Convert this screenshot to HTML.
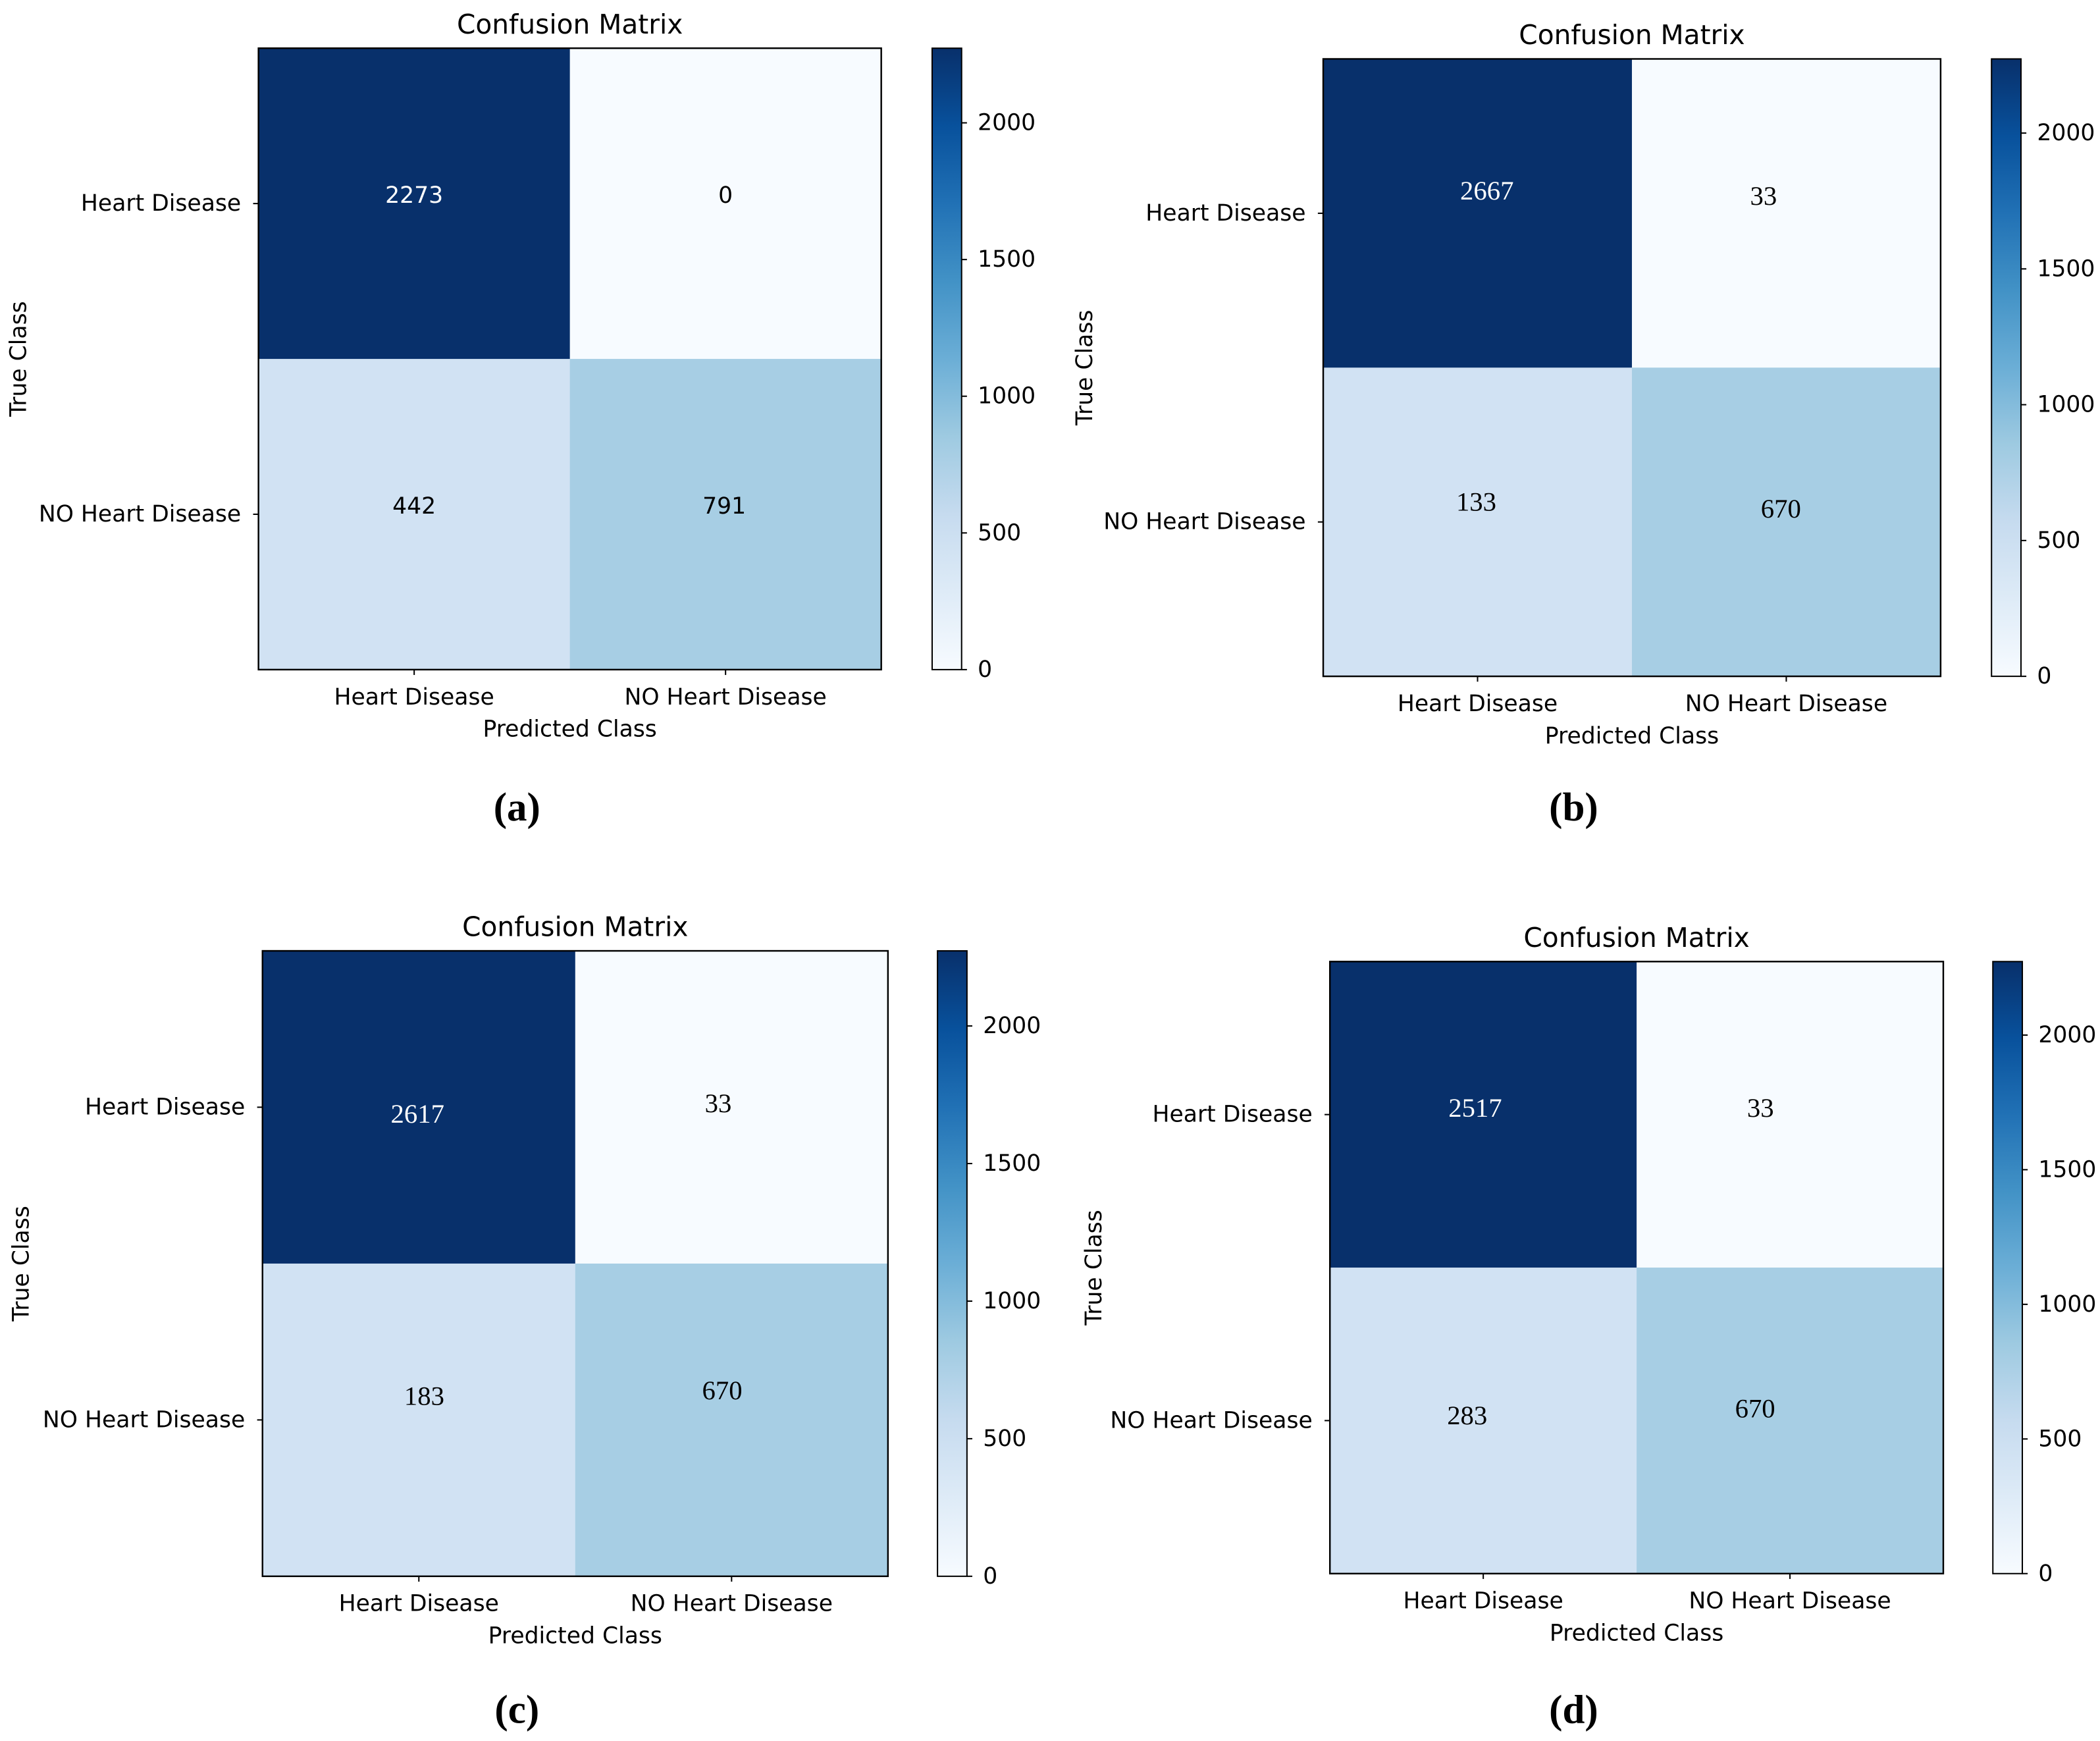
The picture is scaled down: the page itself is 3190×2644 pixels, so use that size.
<!DOCTYPE html>
<html><head><meta charset="utf-8"><style>
html,body{margin:0;padding:0;background:#fff;}
svg{display:block;}
</style></head><body>
<svg id="fig" width="3190" height="2644" viewBox="0 0 1568 1300" preserveAspectRatio="none" xmlns="http://www.w3.org/2000/svg">
<defs>
<linearGradient id="blues" x1="0" y1="1" x2="0" y2="0">
<stop offset="0" stop-color="#f7fbff"/><stop offset="0.125" stop-color="#deebf7"/><stop offset="0.25" stop-color="#c6dbef"/><stop offset="0.375" stop-color="#9ecae1"/><stop offset="0.5" stop-color="#6baed6"/><stop offset="0.625" stop-color="#4292c6"/><stop offset="0.75" stop-color="#2171b5"/><stop offset="0.875" stop-color="#08519c"/><stop offset="1" stop-color="#08306b"/>
</linearGradient>
</defs>
</svg>
<script>
// ---- data ----
const classLabels = ["Heart Disease", "NO Heart Disease"];
const colorbarTicks = [0, 500, 1000, 1500, 2000];
const colorMax = 2273;
const panelLetters = ["(a)", "(b)", "(c)", "(d)"];
const valuesA = [2273, 0, 442, 791];
const valuesB = [2667, 33, 133, 670];
const valuesC = [2617, 33, 183, 670];
const valuesD = [2517, 33, 283, 670];
// shading shown in all four heatmaps (same image shading as panel a)
const shadeValues = [2273, 0, 442, 791];

// ---- layout (pixel positions, not data) ----
const layouts = [
 {x0:193,y0:36,x1:658,y1:500,cb:696,serif:false,yl:14,lab:[386,603],off:[[0,-6],[0,-6],[0,-6],[-1,-6]]},
 {x0:988,y0:44,x1:1449,y1:505,cb:1487,serif:true,yl:810,lab:[1175,603],off:[[7,-17],[-17,-13],[-1,-15],[-4,-10]]},
 {x0:196,y0:710,x1:663,y1:1177,cb:700,serif:true,yl:16,lab:[386,1277],off:[[-1,5],[-10,-3],[4,-18],[-7,-22]]},
 {x0:993,y0:718,x1:1451,y1:1175,cb:1488,serif:true,yl:817,lab:[1175,1277],off:[[-6,-5],[-22,-5],[-12,-4],[-26,-9]]}
];
const allValues = [valuesA, valuesB, valuesC, valuesD];

const stops = ["#f7fbff","#deebf7","#c6dbef","#9ecae1","#6baed6","#4292c6","#2171b5","#08519c","#08306b"];
function hex(c){return [1,3,5].map(i=>parseInt(c.substr(i,2),16));}
function blues(v){
  let t=Math.max(0,Math.min(1,v/colorMax))*(stops.length-1);
  let i=Math.min(stops.length-2,Math.floor(t)),f=t-i;
  let a=hex(stops[i]),b=hex(stops[i+1]);
  return "rgb("+a.map((x,k)=>Math.round(x+(b[k]-x)*f)).join(",")+")";
}
const NS="http://www.w3.org/2000/svg";
const svg=document.getElementById("fig");
function el(tag,attrs,parent,text){
  const e=document.createElementNS(NS,tag);
  for(const k in attrs)e.setAttribute(k,attrs[k]);
  if(text!==undefined)e.textContent=text;
  (parent||svg).appendChild(e);return e;
}
const SANS='"DejaVu Sans","Liberation Sans",sans-serif';
const SERIF='"Liberation Serif","DejaVu Serif",serif';

layouts.forEach((L,p)=>{
  const vals=allValues[p];
  const g=el("g",{});
  
  
  const w=(L.x1-L.x0)/2,h=(L.y1-L.y0)/2;
  const xScale=c=>L.x0+c*w, yScale=r=>L.y0+r*h;
  vals.forEach((v,i)=>{
    const r=Math.floor(i/2),c=i%2;
    const rc=el("rect",{x:xScale(c),y:yScale(r),width:w+0.5,height:h+0.5,fill:blues(shadeValues[i])},g);
    
    
  });
  vals.forEach((v,i)=>{
    const r=Math.floor(i/2),c=i%2;
    const o=L.off[i];
    const t=el("text",{x:xScale(c)+w/2+o[0],y:yScale(r)+h/2+o[1],"text-anchor":"middle","dominant-baseline":"central","font-family":L.serif?SERIF:SANS,"font-size":L.serif?20:17,fill:shadeValues[i]>colorMax/2?"#fff":"#000"},g,String(v));
    
    
  });
  const fr=el("rect",{x:L.x0,y:L.y0,width:L.x1-L.x0,height:L.y1-L.y0,fill:"none",stroke:"#000","stroke-width":1.2},g);
  
  
  const cx=(L.x0+L.x1)/2, cy=(L.y0+L.y1)/2;
  const ti=el("text",{x:cx,y:L.y0-11,"text-anchor":"middle","font-family":SANS,"font-size":20,fill:"#000"},g,"Confusion Matrix");
  
  
  classLabels.forEach((lab,k)=>{
    const yy=yScale(k)+h/2, xx=xScale(k)+w/2;
    el("line",{x1:L.x0-4,x2:L.x0,y1:yy,y2:yy,stroke:"#000","stroke-width":1},g);
    const yt=el("text",{x:L.x0-13,y:yy,"text-anchor":"end","dominant-baseline":"central","font-family":SANS,"font-size":17,fill:"#000"},g,lab);
    
    
    el("line",{x1:xx,x2:xx,y1:L.y1,y2:L.y1+4,stroke:"#000","stroke-width":1},g);
    const xt=el("text",{x:xx,y:L.y1+26,"text-anchor":"middle","font-family":SANS,"font-size":17,fill:"#000"},g,lab);
    
    
  });
  const xl=el("text",{x:cx,y:L.y1+50,"text-anchor":"middle","font-family":SANS,"font-size":17,fill:"#000"},g,"Predicted Class");
  
  
  const yl=el("text",{x:L.yl,y:cy,"text-anchor":"middle","dominant-baseline":"central","font-family":SANS,"font-size":17,fill:"#000",transform:"rotate(-90 "+L.yl+" "+cy+")"},g,"True Class");
  
  
  // colorbar
  const cbW=22, cbH=L.y1-L.y0;
  const cbScale=v=>L.y1-v/colorMax*cbH;
  const cb=el("rect",{x:L.cb,y:L.y0,width:cbW,height:cbH,fill:"url(#blues)",stroke:"#000","stroke-width":1},g);
  
  
  colorbarTicks.forEach(v=>{
    const yy=cbScale(v);
    el("line",{x1:L.cb+cbW,x2:L.cb+cbW+4,y1:yy,y2:yy,stroke:"#000","stroke-width":1},g);
    const tl=el("text",{x:L.cb+cbW+12,y:yy,"dominant-baseline":"central","font-family":SANS,"font-size":17,fill:"#000"},g,String(v));
    
    
  });
  const pl=el("text",{x:L.lab[0],y:L.lab[1],"text-anchor":"middle","dominant-baseline":"central","font-family":SERIF,"font-size":30,"font-weight":"bold",fill:"#000"},g,panelLetters[p]);
  
  
});
</script>
</body></html>
